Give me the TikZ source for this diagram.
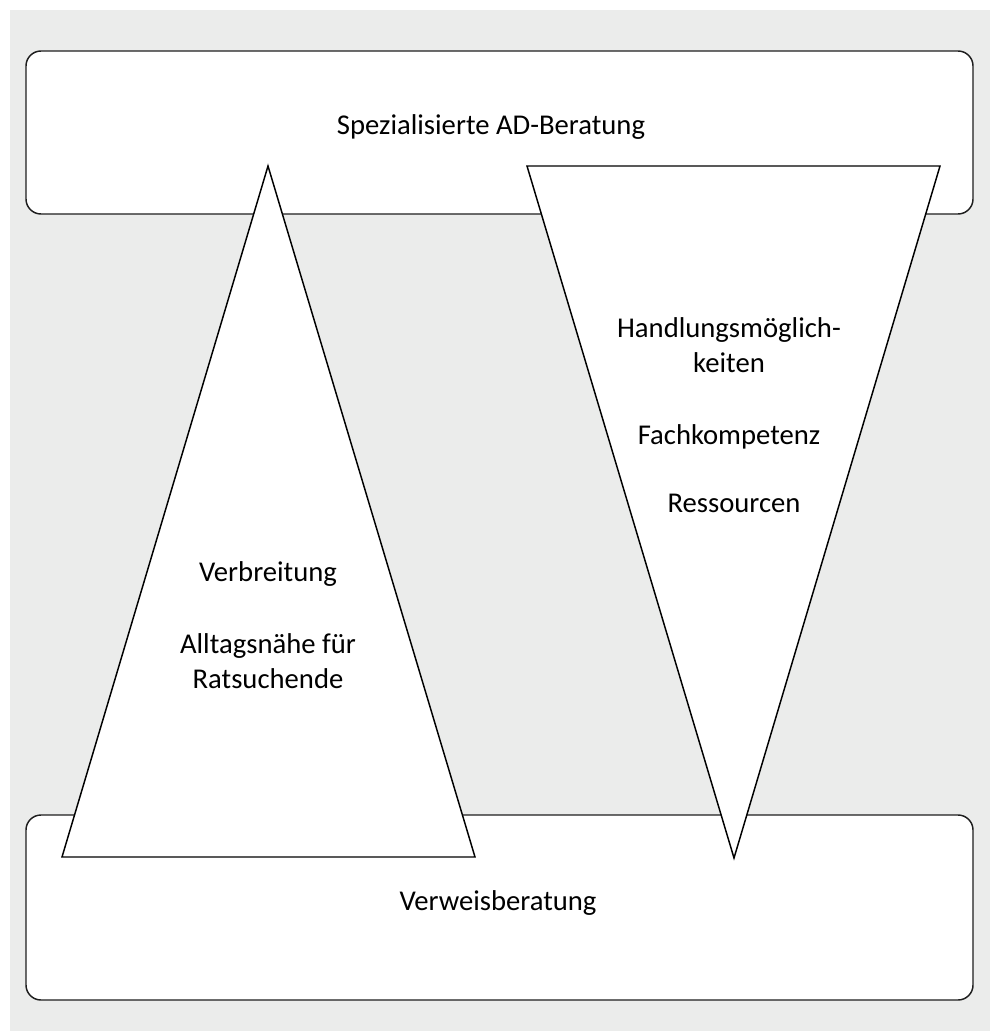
\documentclass[tikz,border=0pt]{standalone}
\usepackage{fontspec}
\setmainfont{Carlito}
\definecolor{bggrey}{RGB}{235,236,235}
\definecolor{edge}{RGB}{30,30,30}
\begin{document}
\begin{tikzpicture}[x=0.75pt,y=-0.75pt,
  box/.style={draw=edge,line width=1.1pt,fill=white,rounded corners=11.25pt},
  tri/.style={draw=black,line width=1.1pt,fill=white,line join=miter},
  lbl/.style={font=\fontsize{21.5}{26.5}\selectfont,align=center,inner sep=0pt}]
\useasboundingbox (0,0) rectangle (994,1031);
\fill[white] (0,0) rectangle (994,1031);
\fill[bggrey] (10,10) rectangle (990,1031);
% boxes
\draw[box] (26,51) rectangle (973,214);
\draw[box] (26,815) rectangle (973,1000);
% triangles
\draw[tri] (268,166) -- (475,857) -- (62,857) -- cycle;
\draw[tri] (527,166) -- (940,166) -- (734,858) -- cycle;
% labels
\node[lbl] (top) at (491,127) {Spezialisierte AD-Beratung};
\node[lbl] (bottom) at (498,903) {Verweisberatung};
\node[lbl] (hand) at (729,345) {Handlungsmöglich-\\keiten};
\node[lbl] (fach) at (729,437) {Fachkompetenz};
\node[lbl] (ress) at (734,503) {Ressourcen};
\node[lbl] (verb) at (268,574) {Verbreitung};
\node[lbl] (allt) at (268,661) {Alltagsnähe für\\Ratsuchende};
\end{tikzpicture}
\end{document}
